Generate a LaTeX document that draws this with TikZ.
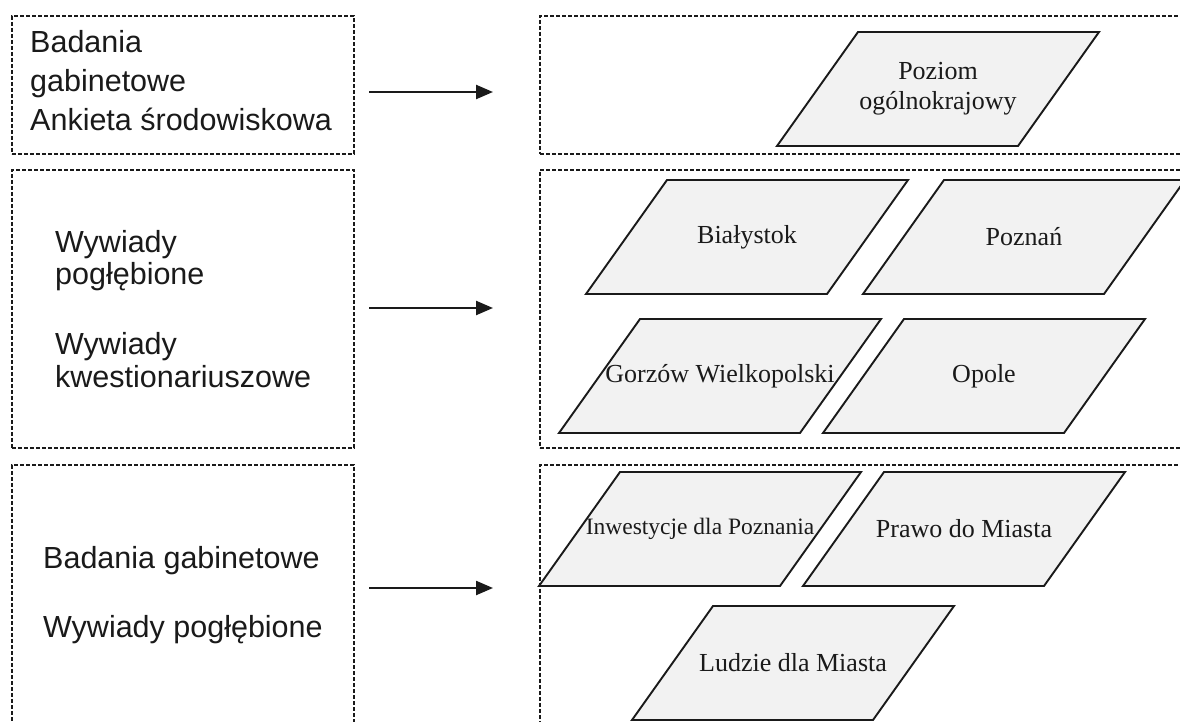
\documentclass[tikz,border=0pt]{standalone}
\usepackage{fontspec}
\setmainfont{Liberation Serif}
\newfontfamily\arialf{Liberation Sans}
\usetikzlibrary{arrows.meta}
\definecolor{parafill}{HTML}{F2F2F2}
\definecolor{inkc}{HTML}{1A1A1A}
\newcommand\pgram[5]{%
  \draw[para] (#2-161,#3+57) -- (#2+80,#3+57) -- (#2+161,#3-57) -- (#2-80,#3-57) -- cycle;
  \node[ptext,#5] (#1) at (#2,#3) {#4};}
\begin{document}
\begin{tikzpicture}[x=1pt,y=-1pt,
  dbox/.style={draw=inkc, line width=1.7pt, dash pattern=on 4pt off 2pt, inner sep=0pt, anchor=north west},
  para/.style={draw=inkc, line width=1.9pt, fill=parafill, line join=miter},
  ptext/.style={font=\fontsize{26}{30}\selectfont, text=inkc, align=center, inner sep=0pt},
  ltext/.style={font=\arialf\fontsize{30.5}{36}\selectfont, text=inkc, anchor=base west, inner sep=0pt},
  arr/.style={draw=inkc, line width=2.3pt, -{Triangle[length=17pt,width=14pt]}}]
\clip (0,0) rectangle (1180,722);
\fill[white] (0,0) rectangle (1180,722);
% left boxes
\node[dbox, minimum width=342pt, minimum height=138pt] (L1) at (11,15) {};
\node[dbox, minimum width=342pt, minimum height=278pt] (L2) at (11,169) {};
\node[dbox, minimum width=342pt, minimum height=300pt] (L3) at (11,464) {};
% right boxes
\node[dbox, minimum width=700pt, minimum height=138pt] (R1) at (539,15) {};
\node[dbox, minimum width=700pt, minimum height=278pt] (R2) at (539,169) {};
\node[dbox, minimum width=700pt, minimum height=300pt] (R3) at (539,464) {};
% left texts
\node[ltext] (t1a) at (30,53) {Badania};
\node[ltext] (t1b) at (30,92) {gabinetowe};
\node[ltext] (t1c) at (30,131) {Ankieta środowiskowa};
\node[ltext] (t2a) at (55,252) {Wywiady};
\node[ltext] (t2b) at (55,284) {pogłębione};
\node[ltext] (t2c) at (55,354) {Wywiady};
\node[ltext] (t2d) at (55,387) {kwestionariuszowe};
\node[ltext] (t3a) at (43,568) {Badania gabinetowe};
\node[ltext] (t3b) at (43,637) {Wywiady pogłębione};
% arrows
\coordinate (a1s) at (369,92);  \coordinate (a1e) at (493,92);
\coordinate (a2s) at (369,308); \coordinate (a2e) at (493,308);
\coordinate (a3s) at (369,588); \coordinate (a3e) at (493,588);
\draw[arr] (a1s) -- (a1e);
\draw[arr] (a2s) -- (a2e);
\draw[arr] (a3s) -- (a3e);
% parallelograms
\pgram{p0}{938}{89}{Poziom\\ogólnokrajowy}{}
\pgram{p1}{747}{237}{Białystok}{}
\pgram{p2}{1024}{237}{Poznań}{}
\pgram{p3}{720}{376}{Gorzów Wielkopolski}{}
\pgram{p4}{984}{376}{Opole}{}
\pgram{p5}{700}{529}{Inwestycje dla Poznania}{font=\fontsize{23.5}{28}\selectfont}
\pgram{p6}{964}{529}{Prawo do Miasta}{}
\pgram{p7}{793}{663}{Ludzie dla Miasta}{}
\end{tikzpicture}
\end{document}
